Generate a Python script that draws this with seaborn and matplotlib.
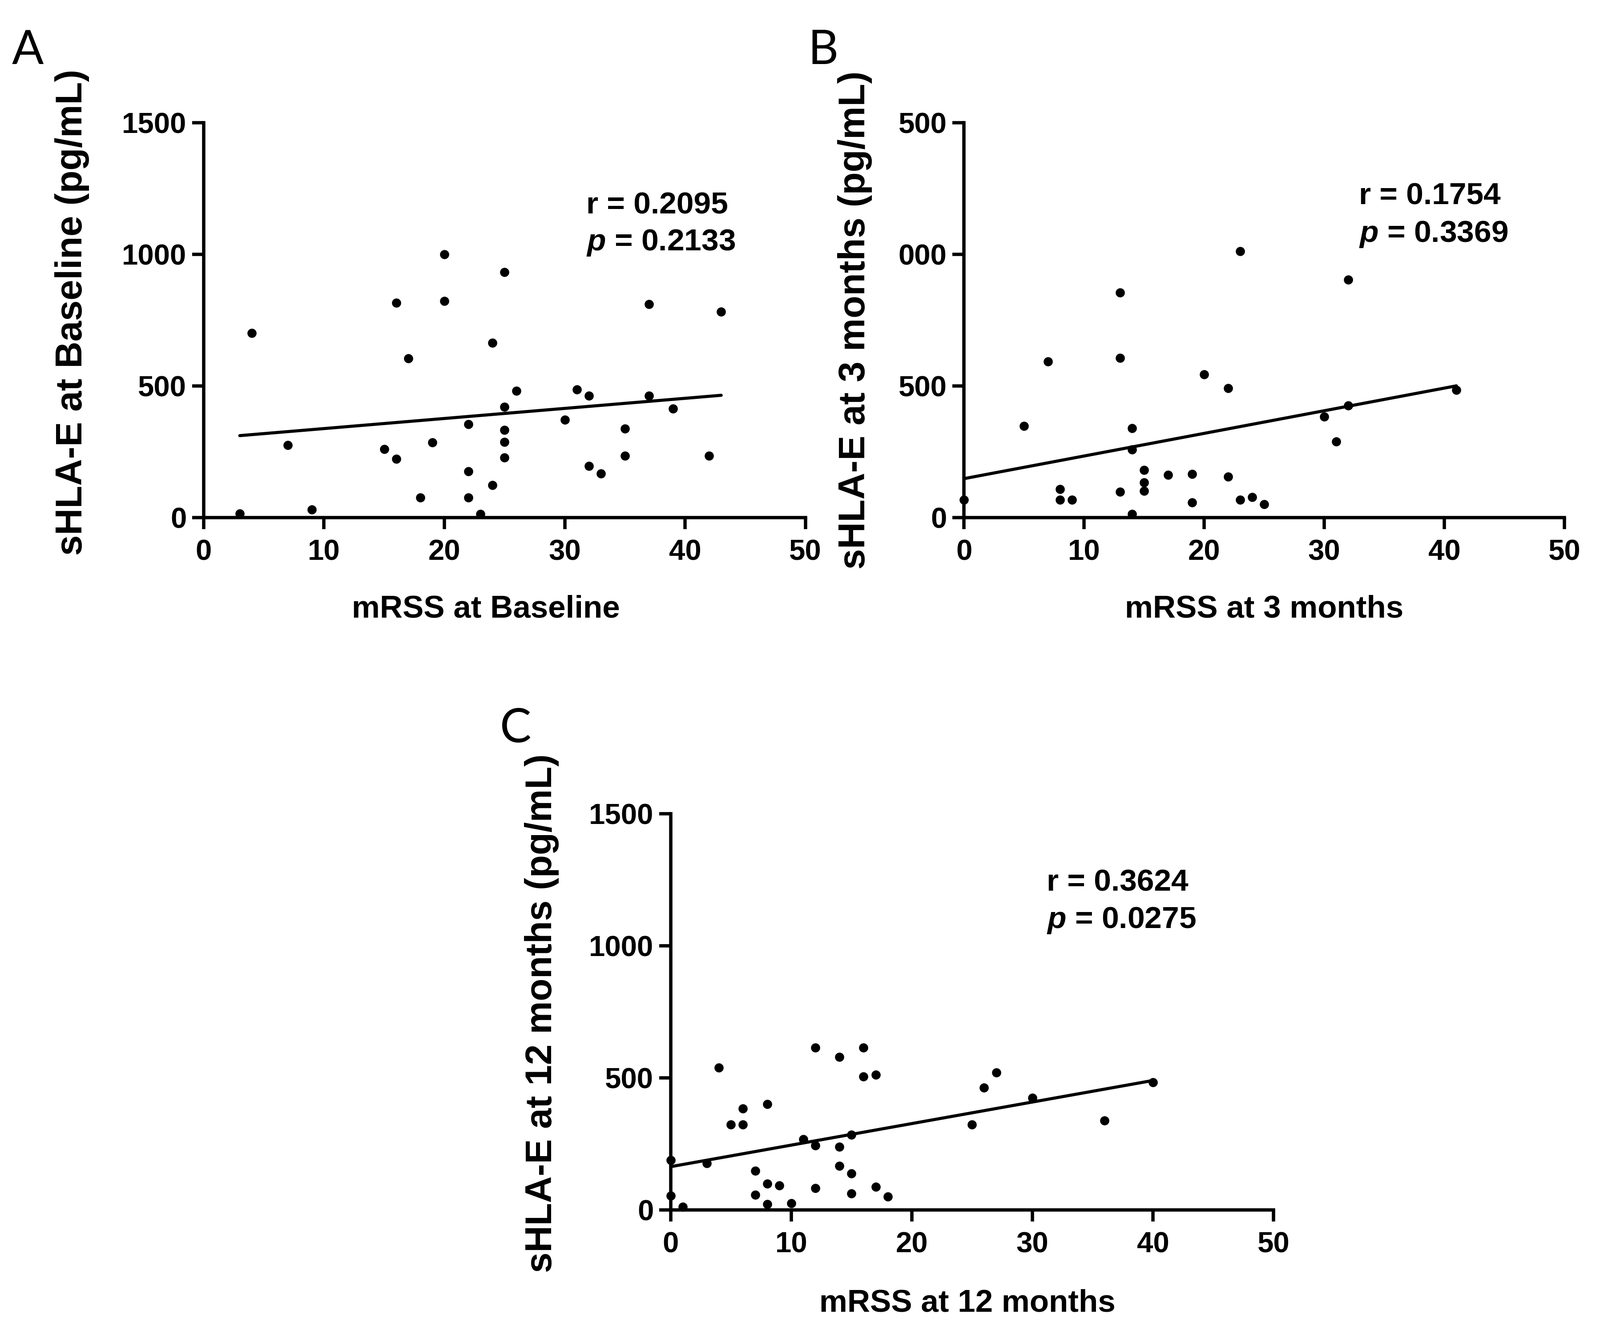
import matplotlib
matplotlib.use("Agg")
import matplotlib.pyplot as plt
import seaborn as sns
import pandas as pd

# ===============================
# Data
# ===============================
# A: baseline
mrss_base = [3, 4, 7, 9, 15, 16, 16, 17, 18, 19, 20, 20, 22, 22, 22, 23, 24, 24,
             25, 25, 25, 25, 25, 26, 30, 31, 32, 32, 33, 35, 35, 37, 37, 39, 42, 43]
hla_base = [15, 700, 275, 30, 260, 223, 815, 605, 76, 285, 1000, 823, 355, 176, 76, 14, 663, 123,
            932, 421, 332, 287, 228, 481, 372, 487, 462, 195, 167, 337, 234, 810, 462, 414, 234, 782]

# B: 3 months
mrss_3m = [0, 5, 7, 8, 8, 9, 13, 13, 13, 14, 14, 14, 15, 15, 15, 17, 19, 19, 20, 22,
           22, 23, 23, 24, 25, 30, 31, 32, 32, 41]
hla_3m = [67, 347, 592, 108, 67, 67, 854, 607, 97, 339, 258, 14, 181, 134, 101, 162, 165, 58, 543, 492,
          155, 1012, 67, 78, 50, 384, 289, 904, 426, 484]

# C: 12 months
mrss_12m = [0, 0, 1, 3, 4, 5, 6, 6, 7, 7, 8, 8, 8, 9, 10, 11, 12, 12, 12, 14, 14, 14,
            15, 15, 15, 16, 16, 17, 17, 18, 25, 26, 27, 30, 36, 40]
hla_12m = [188, 54, 12, 177, 538, 324, 324, 384, 148, 57, 401, 99, 22, 93, 25, 268, 614, 244, 82, 580, 239, 167,
           285, 139, 62, 614, 506, 512, 88, 51, 324, 463, 521, 424, 339, 483]

x_ticks = [0, 10, 20, 30, 40, 50]
y_ticks = [0, 500, 1000, 1500]
y_ticklabels = ["0", "500", "1000", "1500"]
# in panel B the leading "1" is hidden under the axis title in the original
y_ticklabels_b = ["0", "500", "000", "500"]

stats = {
    "A": ("r = 0.2095", "$p$ = 0.2133"),
    "B": ("r = 0.1754", "$p$ = 0.3369"),
    "C": ("r = 0.3624", "$p$ = 0.0275"),
}

# ===============================
# Style
# ===============================
sns.set_theme(style="ticks")
plt.rcParams["font.family"] = ["Liberation Sans", "DejaVu Sans"]
plt.rcParams["font.weight"] = "bold"
plt.rcParams["mathtext.fontset"] = "custom"
plt.rcParams["mathtext.it"] = "Liberation Sans:italic:bold"
plt.rcParams["mathtext.rm"] = "Liberation Sans:bold"

fig = plt.figure(figsize=(17.985, 14.91), dpi=200)
fig.patch.set_facecolor("white")

ax_a = fig.add_axes([0.1273, 0.6097, 0.3761, 0.2978])
ax_b = fig.add_axes([0.6025, 0.6097, 0.3753, 0.2978])
ax_c = fig.add_axes([0.4192, 0.0875, 0.3767, 0.2988])

panels = [
    (ax_a, mrss_base, hla_base, "mRSS at Baseline", "sHLA-E at Baseline (pg/mL)", "A",
     y_ticklabels, (-0.190, 0.52), (0.469, -0.196), (0.636, 0.79, 0.696)),
    (ax_b, mrss_3m, hla_3m, "mRSS at 3 months", "sHLA-E at 3 months (pg/mL)", "B",
     y_ticklabels_b, (-0.1526, 0.50), (0.50, -0.196), (0.658, 0.813, 0.717)),
    (ax_c, mrss_12m, hla_12m, "mRSS at 12 months", "sHLA-E at 12 months (pg/mL)", "C",
     y_ticklabels, (-0.185, 0.497), (0.492, -0.199), (0.624, 0.826, 0.731)),
]

for ax, xs, ys, xlab, ylab, key, ylabs, ylc, xlc, txt in panels:
    df = pd.DataFrame({"x": xs, "y": ys})
    sns.regplot(
        data=df, x="x", y="y", ax=ax, ci=None, color="black",
        scatter_kws={"s": 55, "alpha": 1, "linewidths": 0, "clip_on": False, "zorder": 4},
        line_kws={"lw": 2.5, "zorder": 3},
    )
    ax.set_xlim(0, 50)
    ax.set_ylim(0, 1500)
    ax.set_xticks(x_ticks)
    ax.set_yticks(y_ticks)
    ax.set_yticklabels(ylabs)
    sns.despine(ax=ax)
    for side in ["left", "bottom"]:
        ax.spines[side].set_linewidth(2.7)
        ax.spines[side].set_color("black")
    ax.tick_params(axis="both", direction="out", length=9.4, width=2.7,
                   colors="black", labelsize=23.5)
    ax.tick_params(axis="x", pad=8)
    ax.tick_params(axis="y", pad=4.5)
    for lab in ax.get_xticklabels() + ax.get_yticklabels():
        lab.set_fontweight("bold")

    ax.set_xlabel(xlab, fontsize=25.5, fontweight="bold", color="black")
    ax.set_ylabel(ylab, fontsize=30, fontweight="bold", color="black")
    ax.xaxis.set_label_coords(*xlc)
    ax.yaxis.set_label_coords(*ylc)

    r_txt, p_txt = stats[key]
    ax.text(txt[0], txt[1], r_txt, transform=ax.transAxes, ha="left", va="center",
            fontsize=25, fontweight="bold", color="black")
    ax.text(txt[0], txt[2], p_txt, transform=ax.transAxes, ha="left", va="center",
            fontsize=25, fontweight="bold", color="black")

# panel letters
for letter, x, y in [("A", 0.0075, 0.978), ("B", 0.505, 0.978), ("C", 0.3125, 0.4665)]:
    fig.text(x, y, letter, ha="left", va="top", fontsize=38,
             fontweight="normal", family=["Lato", "DejaVu Sans"], color="black")

plt.savefig("out.png", dpi=200, facecolor="white")
